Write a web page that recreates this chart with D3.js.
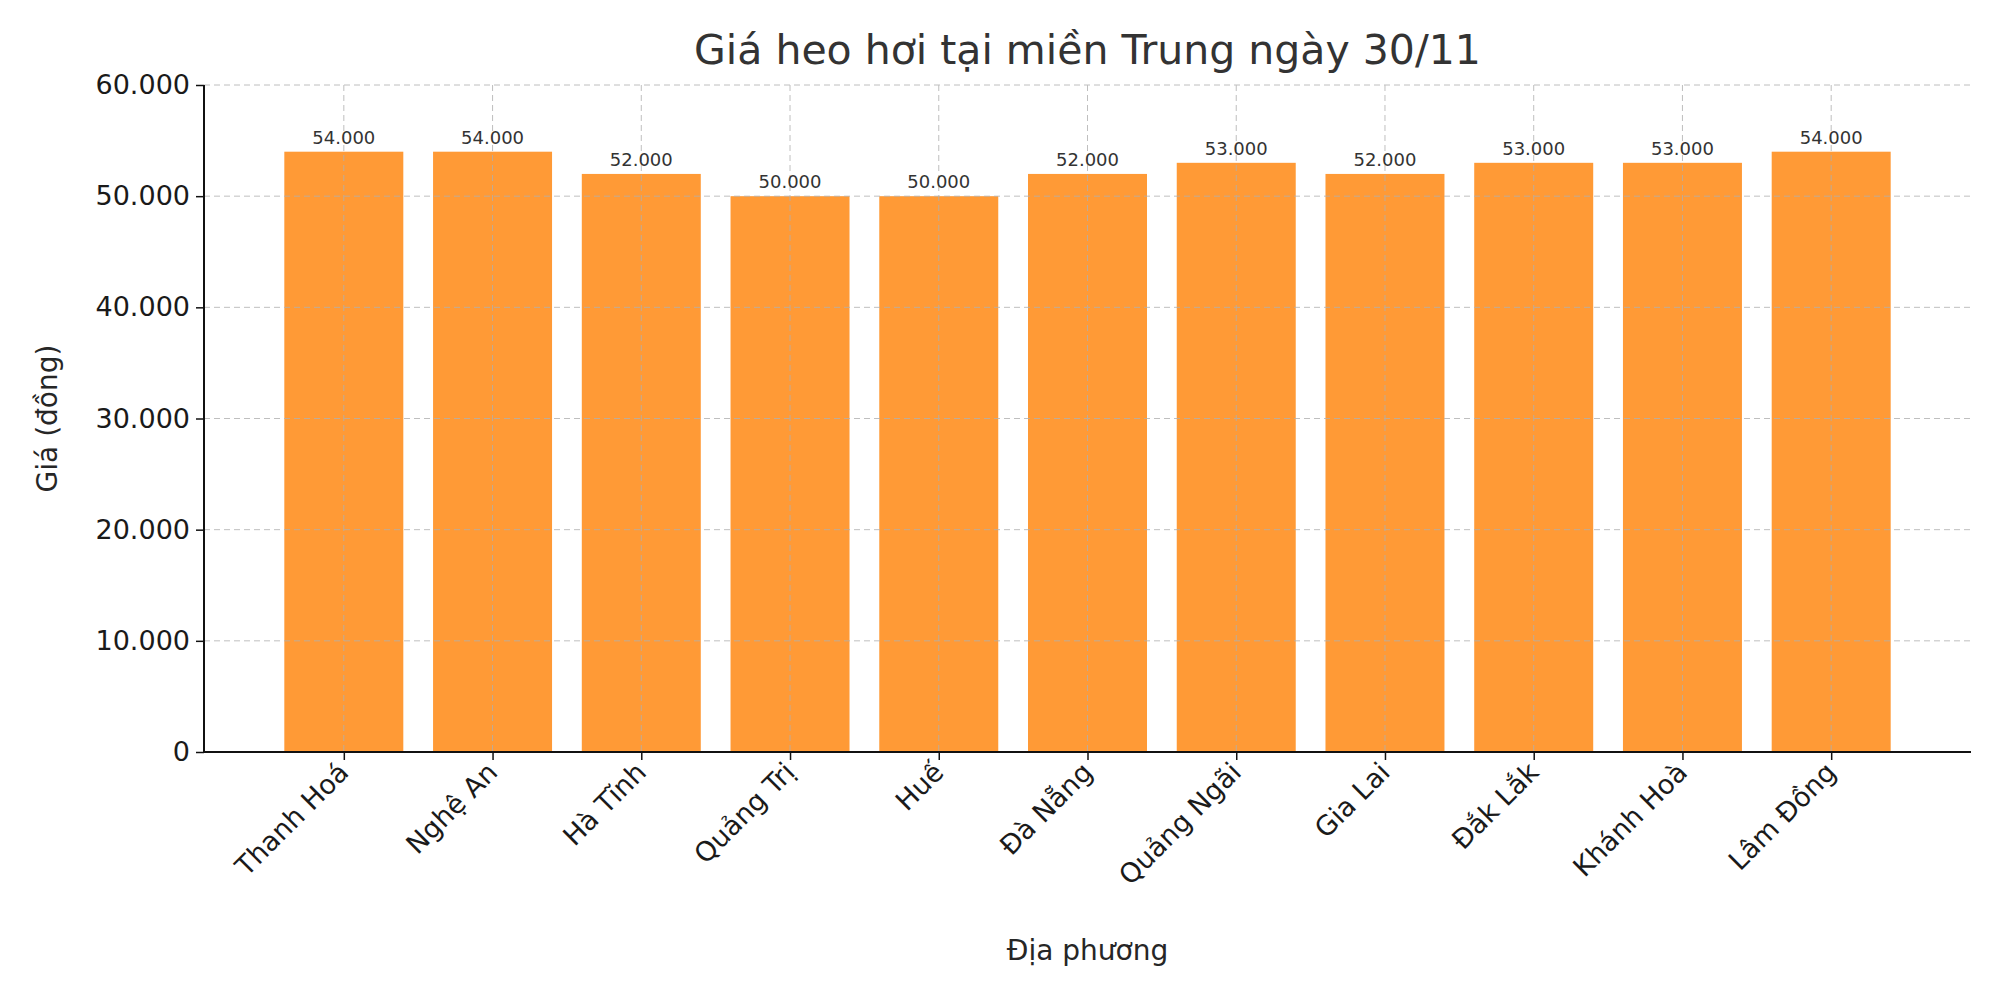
<!DOCTYPE html>
<html lang="vi">
<head>
<meta charset="UTF-8" />
<style>
  body { margin: 0; background: #fff; }
  text { font-family: "DejaVu Sans", sans-serif; fill: #262626; }
</style>
</head>
<body>
<div id="chart"></div>
<script src="https://d3js.org/d3.v7.min.js"></script>
<script>
  const categories = ["Thanh Hoá", "Nghệ An", "Hà Tĩnh", "Quảng Trị", "Huế", "Đà Nẵng",
    "Quảng Ngãi", "Gia Lai", "Đắk Lắk", "Khánh Hoà", "Lâm Đồng"];
  const prices = [54000, 54000, 52000, 50000, 50000, 52000, 53000, 52000, 53000, 53000, 54000];
  const yTicks = [0, 10000, 20000, 30000, 40000, 50000, 60000];

  const width = 2000, height = 1000;
  const mLeft = 204, mRight = 1971, mTop = 85, mBottom = 752;
  const fmt = v => d3.format(",")(v).replace(/,/g, ".");

  const svg = d3.select("#chart").append("svg")
    .attr("width", width).attr("height", height);

  const x = d3.scaleLinear().domain([-0.94, categories.length - 0.06]).range([mLeft, mRight]);
  const y = d3.scaleLinear().domain([0, 60000]).range([mBottom, mTop]);
  const barW = (x(1) - x(0)) * 0.8;

  // bars
  svg.selectAll("rect.bar").data(prices).join("rect")
    .attr("x", (d, i) => x(i) - barW / 2)
    .attr("y", d => y(d))
    .attr("width", barW)
    .attr("height", d => mBottom - y(d))
    .attr("fill", "#ff9a36");

  // grid (drawn above bars like the reference)
  const grid = svg.append("g").attr("stroke", "#b0b0b0").attr("stroke-dasharray", "6,4")
    .attr("stroke-width", 1).attr("opacity", 0.8);
  grid.selectAll("line.h").data(yTicks).join("line")
    .attr("x1", mLeft).attr("x2", mRight).attr("y1", d => y(d)).attr("y2", d => y(d));
  grid.selectAll("line.v").data(categories).join("line")
    .attr("x1", (d, i) => x(i)).attr("x2", (d, i) => x(i)).attr("y1", mTop).attr("y2", mBottom);

  // value labels
  svg.selectAll("text.val").data(prices).join("text")
    .attr("x", (d, i) => x(i)).attr("y", d => y(d) - 8)
    .attr("text-anchor", "middle").attr("font-size", 18).style("fill", "#333")
    .text(fmt);

  // axes
  const yAxis = svg.append("g").attr("transform", `translate(${mLeft},0)`)
    .call(d3.axisLeft(y).tickValues(yTicks).tickFormat(fmt).tickSize(8).tickPadding(6));
  const xAxis = svg.append("g").attr("transform", `translate(0,${mBottom})`)
    .call(d3.axisBottom(x).tickValues(d3.range(categories.length)).tickFormat(i => categories[i])
      .tickSize(8).tickSizeOuter(0));
  [yAxis, xAxis].forEach(a => {
    a.select(".domain").attr("stroke", "#111").attr("stroke-width", 2);
    a.selectAll(".tick line").attr("stroke", "#111").attr("stroke-width", 1.5);
    a.selectAll("text").attr("font-size", 27).style("fill", "#1a1a1a");
  });
  yAxis.select(".domain").attr("d", `M0,${mBottom}V${mTop}`);
  xAxis.select(".domain").attr("d", `M${mLeft},0H${mRight}`);
  xAxis.selectAll(".tick text")
    .attr("text-anchor", "end").attr("dy", 0).attr("y", 0)
    .attr("transform", "translate(6,22) rotate(-45)");

  // titles
  svg.append("text").attr("x", (mLeft + mRight) / 2).attr("y", 64)
    .attr("text-anchor", "middle").attr("font-size", 41).style("fill", "#333")
    .text("Giá heo hơi tại miền Trung ngày 30/11");
  svg.append("text").attr("x", (mLeft + mRight) / 2).attr("y", 960)
    .attr("text-anchor", "middle").attr("font-size", 28).text("Địa phương");
  svg.append("text").attr("transform", `translate(57,${(mTop + mBottom) / 2}) rotate(-90)`)
    .attr("text-anchor", "middle").attr("font-size", 28).text("Giá (đồng)");
</script>
</body>
</html>
